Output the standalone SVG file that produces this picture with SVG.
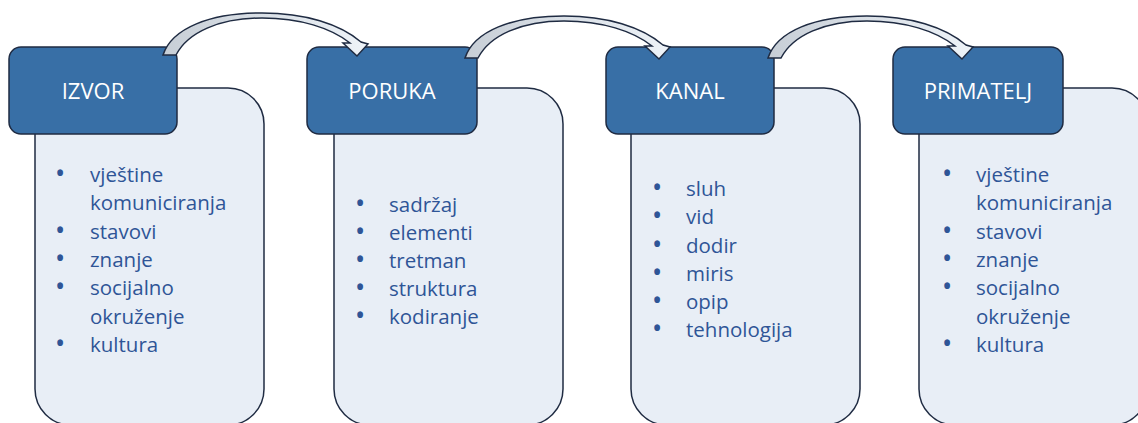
<svg xmlns="http://www.w3.org/2000/svg" width="1138" height="423" viewBox="0 0 1138 423">
<style>
.body{fill:#e8eef6;stroke:#1f2b42;stroke-width:1.5}
.head{fill:#386fa6;stroke:#1f2b42;stroke-width:1.5}
.ht{font-family:"Open Sans","Liberation Sans",sans-serif;font-size:22px;fill:#ffffff;text-anchor:middle}
.bt{font-family:"Open Sans","Liberation Sans",sans-serif;font-size:20.5px;fill:#2f5597}
.bu{font-family:"Open Sans","Liberation Sans",sans-serif;font-size:20.5px;font-weight:bold;fill:#2f5597;text-anchor:middle}
.arrow{fill:url(#ag);stroke:#1f2b42;stroke-width:1.5;stroke-linejoin:miter}
</style>
<defs>
<linearGradient id="ag" x1="163" y1="0" x2="368" y2="0" gradientUnits="userSpaceOnUse">
<stop offset="0" stop-color="#c7ced6"/>
<stop offset="1" stop-color="#eef3f8"/>
</linearGradient>
<path id="carrow" class="arrow" d="M163,55 C172,28 210,13 262,13 C305,13 340,24 361,42 L368,44 L357,56 L343,43 L350,43 C331,28 300,18 262,18 C220,18 188,32 176,55 Z"/>
</defs>
<rect width="1138" height="423" fill="#ffffff"/>
<g id="izvor">
<rect class="body" x="35" y="88" width="229" height="337" rx="36"/>
<rect class="head" x="9" y="47" width="168" height="87" rx="12"/>
<text class="ht" x="93" y="99">IZVOR</text>
<g class="bu">
<text x="60" y="181">•</text><text x="60" y="238">•</text><text x="60" y="266">•</text><text x="60" y="294">•</text><text x="60" y="351">•</text>
</g>
<g class="bt">
<text x="90" y="182">vještine</text>
<text x="90" y="210">komuniciranja</text>
<text x="90" y="239">stavovi</text>
<text x="90" y="267">znanje</text>
<text x="90" y="295">socijalno</text>
<text x="90" y="324">okruženje</text>
<text x="90" y="352">kultura</text>
</g>
</g>
<g id="poruka">
<rect class="body" x="334" y="88" width="229" height="337" rx="36"/>
<rect class="head" x="307" y="47" width="170" height="87" rx="12"/>
<text class="ht" x="392" y="99">PORUKA</text>
<g class="bu">
<text x="360" y="211">•</text><text x="360" y="239">•</text><text x="360" y="267">•</text><text x="360" y="295">•</text><text x="360" y="323">•</text>
</g>
<g class="bt">
<text x="389" y="212">sadržaj</text>
<text x="389" y="240">elementi</text>
<text x="389" y="268">tretman</text>
<text x="389" y="296">struktura</text>
<text x="389" y="324">kodiranje</text>
</g>
</g>
<g id="kanal">
<rect class="body" x="631" y="88" width="229" height="337" rx="36"/>
<rect class="head" x="606" y="47" width="168" height="87" rx="12"/>
<text class="ht" x="690" y="99">KANAL</text>
<g class="bu">
<text x="657" y="195">•</text><text x="657" y="223">•</text><text x="657" y="252">•</text><text x="657" y="280">•</text><text x="657" y="308">•</text><text x="657" y="336">•</text>
</g>
<g class="bt">
<text x="686" y="196">sluh</text>
<text x="686" y="224">vid</text>
<text x="686" y="253">dodir</text>
<text x="686" y="281">miris</text>
<text x="686" y="309">opip</text>
<text x="686" y="337">tehnologija</text>
</g>
</g>
<g id="primatelj">
<rect class="body" x="919" y="88" width="229" height="337" rx="36"/>
<rect class="head" x="893" y="47" width="170" height="87" rx="12"/>
<text class="ht" x="978" y="99">PRIMATELJ</text>
<g class="bu">
<text x="947" y="181">•</text><text x="947" y="238">•</text><text x="947" y="266">•</text><text x="947" y="294">•</text><text x="947" y="351">•</text>
</g>
<g class="bt">
<text x="976" y="182">vještine</text>
<text x="976" y="210">komuniciranja</text>
<text x="976" y="239">stavovi</text>
<text x="976" y="267">znanje</text>
<text x="976" y="295">socijalno</text>
<text x="976" y="324">okruženje</text>
<text x="976" y="352">kultura</text>
</g>
</g>
<g id="connectors">
<use href="#carrow"/>
<use href="#carrow" transform="translate(302,3)"/>
<use href="#carrow" transform="translate(605,3)"/>
</g>
</svg>
